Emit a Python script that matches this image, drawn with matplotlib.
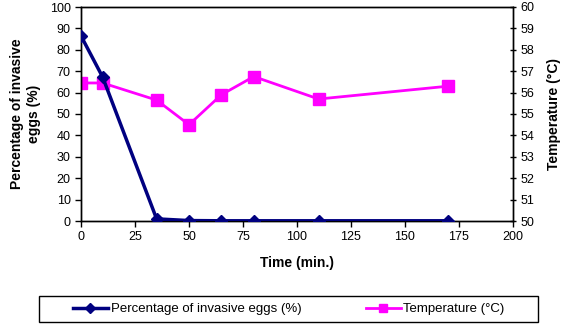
import matplotlib
matplotlib.use("Agg")
import matplotlib.pyplot as plt
from matplotlib.patches import Rectangle

plt.rcParams["font.family"] = ["Liberation Sans", "DejaVu Sans"]

# data
time_min = [0, 10, 35, 50, 65, 80, 110, 170]
invasive_pct = [86.5, 67.3, 1.0, 0.2, 0.1, 0.1, 0.1, 0.1]
temperature_c = [56.45, 56.45, 55.65, 54.5, 55.9, 56.75, 55.7, 56.3]

x_ticks = [0, 25, 50, 75, 100, 125, 150, 175, 200]
left_ticks = list(range(0, 101, 10))
right_ticks = list(range(50, 61, 1))

W, H = 567, 327
fig = plt.figure(figsize=(W / 100, H / 100), dpi=100)
ax = fig.add_axes([81 / W, 1 - 221 / H, (513 - 81) / W, (221 - 7) / H])
ax2 = ax.twinx()

l1, = ax.plot(time_min, invasive_pct, color="#000080", lw=2.5, marker="D",
              ms=6.5, label="Percentage of invasive eggs (%)", zorder=3)
l2, = ax2.plot(time_min, temperature_c, color="#FF00FF", lw=2, marker="s",
               ms=8, label="Temperature (°C)", zorder=2)
ax.set_zorder(ax2.get_zorder() + 1)
ax.patch.set_visible(False)

ax.set_xlim(0, 200)
ax.set_ylim(0, 100)
ax2.set_ylim(50, 60)
ax.set_xticks(x_ticks)
ax.set_yticks(left_ticks)
ax2.set_yticks(right_ticks)

ax.tick_params(axis="both", labelsize=9, length=4, width=1, direction="out")
ax2.tick_params(axis="y", labelsize=9, length=4, width=1, direction="inout")

ax.set_xlabel("Time (min.)", fontsize=10, fontweight="bold", labelpad=9)
ax.set_ylabel("Percentage of invasive\neggs (%)", fontsize=10, fontweight="bold",
              labelpad=6, linespacing=1.25)
ax2.set_ylabel("Temperature (°C)", fontsize=10, fontweight="bold", labelpad=9)

for sp in list(ax.spines.values()) + list(ax2.spines.values()):
    sp.set_color("black")
    sp.set_linewidth(1)

# legend box drawn separately, entries placed inside it
fig.patches.append(Rectangle((39 / W, 1 - 322 / H), 499 / W, 26 / H,
                             transform=fig.transFigure, fill=False,
                             edgecolor="black", lw=1))
fig.legend(handles=[l1, l2], loc="center left", ncol=2,
           bbox_to_anchor=(73 / W, 1 - 309 / H), fontsize=9.5, frameon=False,
           handlelength=2.65, handletextpad=0.2, columnspacing=4.9,
           borderaxespad=0, borderpad=0, markerscale=0.8)

fig.savefig("out.png", dpi=100)
